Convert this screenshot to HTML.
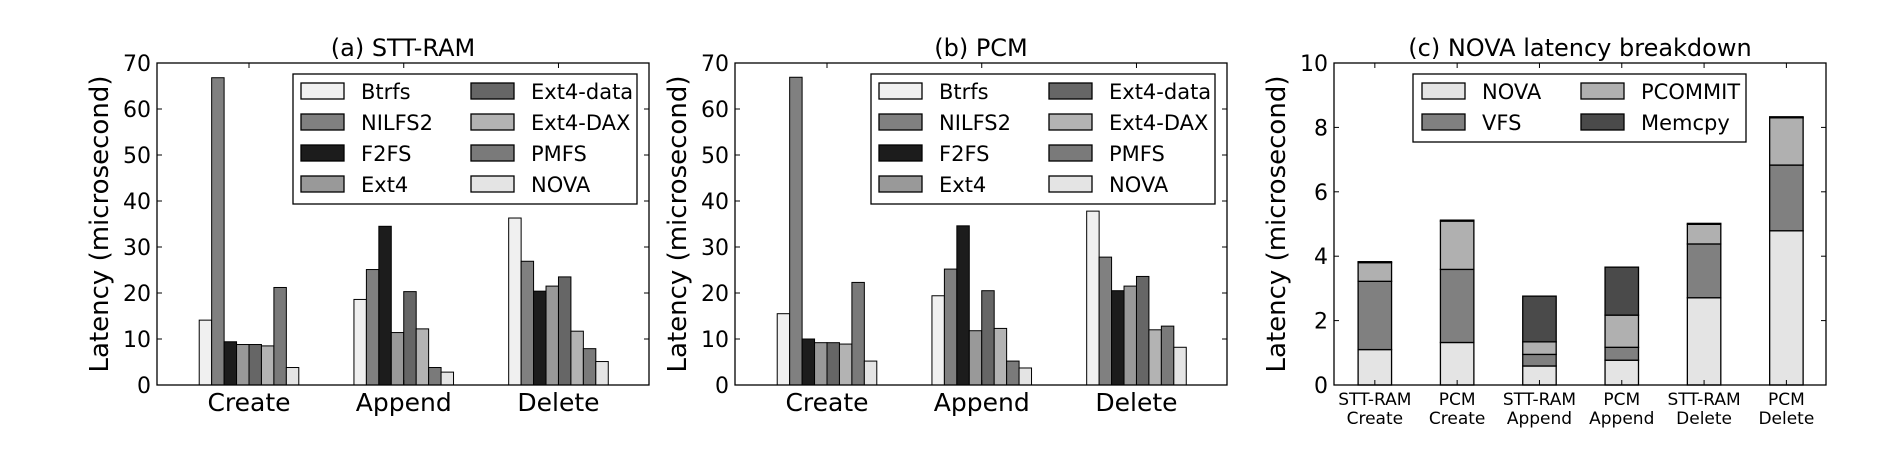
<!DOCTYPE html>
<html><head><meta charset="utf-8"><style>
html,body{margin:0;padding:0;background:#fff;}
svg{display:block;font-family:"DejaVu Sans","Liberation Sans",sans-serif;}
</style></head><body>
<svg id="fig" width="1892" height="456" viewBox="0 0 1892 456" xmlns="http://www.w3.org/2000/svg"></svg>
<script>
const groups = ["Create","Append","Delete"];
const fsNames = ["Btrfs","NILFS2","F2FS","Ext4","Ext4-data","Ext4-DAX","PMFS","NOVA"];
const sttCreate = [14.1,66.8,9.4,8.8,8.8,8.5,21.2,3.8];
const sttAppend = [18.6,25.1,34.5,11.4,20.3,12.2,3.8,2.8];
const sttDelete = [36.3,26.9,20.4,21.5,23.5,11.7,7.9,5.1];
const pcmCreate = [15.5,66.9,10.0,9.2,9.2,8.9,22.3,5.2];
const pcmAppend = [19.4,25.2,34.6,11.8,20.5,12.3,5.2,3.7];
const pcmDelete = [37.8,27.8,20.5,21.5,23.6,12.0,12.8,8.2];
const abTicks = [0,10,20,30,40,50,60,70];
const cCats = [["STT-RAM","Create"],["PCM","Create"],["STT-RAM","Append"],["PCM","Append"],["STT-RAM","Delete"],["PCM","Delete"]];
const compNames = ["NOVA","VFS","PCOMMIT","Memcpy"];
const segNova = [1.10,1.32,0.59,0.77,2.71,4.79];
const segVfs = [2.12,2.27,0.36,0.40,1.67,2.04];
const segPcommit = [0.58,1.50,0.39,1.00,0.61,1.47];
const segMemcpy = [0.03,0.03,1.42,1.49,0.03,0.03];
const cTicks = [0,2,4,6,8,10];

const fsColors = ["#f0f0f0","#808080","#1c1c1c","#999999","#666666","#b3b3b3","#7a7a7a","#e4e4e4"];
const compColors = ["#e4e4e4","#808080","#b0b0b0","#4a4a4a"];
const NS="http://www.w3.org/2000/svg";
const svg=document.getElementById('fig');
function mk(tag,attrs,parent){const e=document.createElementNS(NS,tag);for(const k in attrs)e.setAttribute(k,attrs[k]);(parent||svg).appendChild(e);return e;}
const TOP=63,BOT=385,W=492;

function axesFrame(x0,max,ticks,title,name){
  const g=mk('g',{});
  
  
  const y=v=>BOT-(v/max)*(BOT-TOP);
  ticks.forEach(t=>{
    mk('line',{x1:x0,x2:x0+5,y1:y(t),y2:y(t),stroke:'#000','stroke-width':1},g);
    mk('line',{x1:x0+W-5,x2:x0+W,y1:y(t),y2:y(t),stroke:'#000','stroke-width':1},g);
    const tx=mk('text',{x:x0-6,y:y(t)+8,'text-anchor':'end','font-size':22},g);
    tx.textContent=t;
    
    
  });
  const tt=mk('text',{x:x0+W/2,y:56,'text-anchor':'middle','font-size':24},g);
  tt.textContent=title;
  
  
  const yl=mk('text',{transform:`translate(${x0-49},${(TOP+BOT)/2}) rotate(-90)`,'text-anchor':'middle','font-size':26},g);
  yl.textContent='Latency (microsecond)';
  
  
  return {g,y};
}

function groupedPanel(x0,series,title,name){
  const ax=axesFrame(x0,70,abTicks,title,name);
  const bw=W*0.0253;
  groups.forEach((gname,gi)=>{
    const cx=x0+W*(0.187+0.3145*gi);
    series[gi].forEach((v,i)=>{
      const bx=cx-4*bw+i*bw;
      const r=mk('rect',{x:bx,y:ax.y(v),width:bw,height:BOT-ax.y(v),fill:fsColors[i],stroke:'#000','stroke-width':1},ax.g);
      
      
    });
    mk('line',{x1:cx,x2:cx,y1:BOT,y2:BOT-5,stroke:'#000'},ax.g);
    mk('line',{x1:cx,x2:cx,y1:TOP,y2:TOP+5,stroke:'#000'},ax.g);
    const t=mk('text',{x:cx,y:411,'text-anchor':'middle','font-size':25},ax.g);
    t.textContent=gname;
    
    
  });
  mk('rect',{x:x0,y:TOP,width:W,height:BOT-TOP,fill:'none',stroke:'#000','stroke-width':1.3},ax.g);
  const lg=mk('g',{},ax.g);
  
  
  mk('rect',{x:x0+136,y:74,width:344,height:130,fill:'#fff',stroke:'#000','stroke-width':1.3},lg);
  fsNames.forEach((n,i)=>{
    const col=Math.floor(i/4),row=i%4;
    const px=x0+(col?314:144),ty=91+row*31;
    const p=mk('rect',{x:px,y:ty-8,width:43,height:16,fill:fsColors[i],stroke:'#000','stroke-width':1.3},lg);
    
    
    const t=mk('text',{x:px+60,y:ty+8,'font-size':21},lg);
    t.textContent=n;
    
    
  });
}
groupedPanel(157,[sttCreate,sttAppend,sttDelete],'(a) STT-RAM','panel-stt-ram');
groupedPanel(735,[pcmCreate,pcmAppend,pcmDelete],'(b) PCM','panel-pcm');

(function(){
  const x0=1334;
  const ax=axesFrame(x0,10,cTicks,'(c) NOVA latency breakdown','panel-nova-breakdown');
  const segs=[segNova,segVfs,segPcommit,segMemcpy];
  const bw=W*0.068;
  cCats.forEach((c,ci)=>{
    const cx=x0+W*(0.083+0.1673*ci);
    let base=0;
    segs.forEach((arr,si)=>{
      const v=arr[ci];
      const r=mk('rect',{x:cx-bw/2,y:ax.y(base+v),width:bw,height:ax.y(base)-ax.y(base+v),fill:compColors[si],stroke:'#000','stroke-width':1.3},ax.g);
      
      
      base+=v;
    });
    mk('line',{x1:cx,x2:cx,y1:BOT,y2:BOT-5,stroke:'#000'},ax.g);
    mk('line',{x1:cx,x2:cx,y1:TOP,y2:TOP+5,stroke:'#000'},ax.g);
    c.forEach((ln,li)=>{
      const t=mk('text',{x:cx,y:405+li*19,'text-anchor':'middle','font-size':17},ax.g);
      t.textContent=ln;
      
      
    });
  });
  mk('rect',{x:x0,y:TOP,width:W,height:BOT-TOP,fill:'none',stroke:'#000','stroke-width':1.3},ax.g);
  const lg=mk('g',{},ax.g);
  
  
  mk('rect',{x:1413,y:74,width:333,height:68,fill:'#fff',stroke:'#000','stroke-width':1.3},lg);
  compNames.forEach((n,i)=>{
    const col=Math.floor(i/2),row=i%2;
    const px=col?1581:1422,ty=91+row*31;
    const p=mk('rect',{x:px,y:ty-8,width:43,height:16,fill:compColors[i],stroke:'#000','stroke-width':1.3},lg);
    
    
    const t=mk('text',{x:px+60,y:ty+8,'font-size':21},lg);
    t.textContent=n;
    
    
  });
})();
</script>
</body></html>
